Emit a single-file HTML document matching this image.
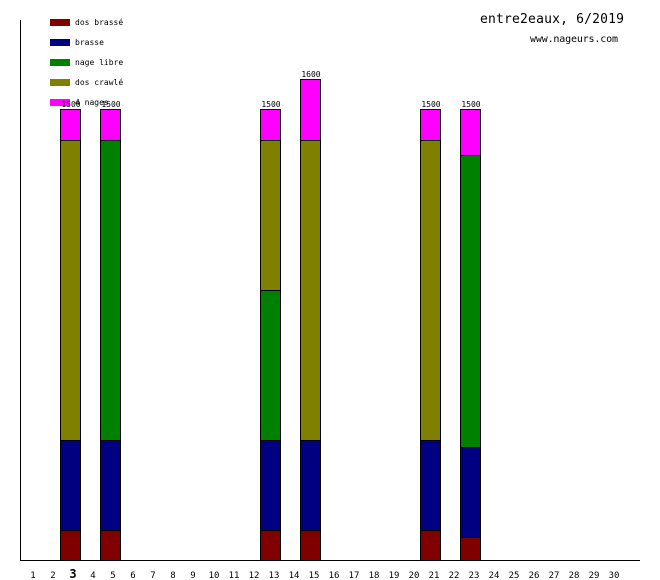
<!DOCTYPE html>
<html><head><meta charset="utf-8"><style>
html,body{margin:0;padding:0;background:#fff;}
svg{display:block;}
text{font-family:"DejaVu Sans Mono","Liberation Mono",monospace;}
</style></head><body>
<svg width="660" height="580" xmlns="http://www.w3.org/2000/svg">
<rect width="660" height="580" fill="#fff"/>
<line x1="20.5" y1="20" x2="20.5" y2="561" stroke="#000"/>
<line x1="20" y1="560.5" x2="640" y2="560.5" stroke="#000"/>
<text x="480" y="23" font-size="13" textLength="144">entre2eaux, 6/2019</text>
<text x="530" y="42" font-size="10" textLength="88">www.nageurs.com</text>
<g font-size="8">
<rect x="50" y="19" width="20" height="7" fill="#800000"/><text x="75" y="25">dos brassé</text>
<rect x="50" y="39" width="20" height="7" fill="#000080"/><text x="75" y="45">brasse</text>
<rect x="50" y="59" width="20" height="7" fill="#008000"/><text x="75" y="65">nage libre</text>
<rect x="50" y="79" width="20" height="7" fill="#808000"/><text x="75" y="85">dos crawlé</text>
<rect x="50" y="99" width="20" height="7" fill="#ff00ff"/><text x="75" y="105">4 nages</text>
</g>
<g stroke="#000" stroke-width="1">
<!-- day 3 -->
<rect x="60.5" y="530.5" width="20" height="30" fill="#800000"/>
<rect x="60.5" y="440.5" width="20" height="90" fill="#000080"/>
<rect x="60.5" y="140.5" width="20" height="300" fill="#808000"/>
<rect x="60.5" y="109.5" width="20" height="31" fill="#ff00ff"/>
<!-- day 5 -->
<rect x="100.5" y="530.5" width="20" height="30" fill="#800000"/>
<rect x="100.5" y="440.5" width="20" height="90" fill="#000080"/>
<rect x="100.5" y="140.5" width="20" height="300" fill="#008000"/>
<rect x="100.5" y="109.5" width="20" height="31" fill="#ff00ff"/>
<!-- day 13 -->
<rect x="260.5" y="530.5" width="20" height="30" fill="#800000"/>
<rect x="260.5" y="440.5" width="20" height="90" fill="#000080"/>
<rect x="260.5" y="290.5" width="20" height="150" fill="#008000"/>
<rect x="260.5" y="140.5" width="20" height="150" fill="#808000"/>
<rect x="260.5" y="109.5" width="20" height="31" fill="#ff00ff"/>
<!-- day 15 -->
<rect x="300.5" y="530.5" width="20" height="30" fill="#800000"/>
<rect x="300.5" y="440.5" width="20" height="90" fill="#000080"/>
<rect x="300.5" y="140.5" width="20" height="300" fill="#808000"/>
<rect x="300.5" y="79.5" width="20" height="61" fill="#ff00ff"/>
<!-- day 21 -->
<rect x="420.5" y="530.5" width="20" height="30" fill="#800000"/>
<rect x="420.5" y="440.5" width="20" height="90" fill="#000080"/>
<rect x="420.5" y="140.5" width="20" height="300" fill="#808000"/>
<rect x="420.5" y="109.5" width="20" height="31" fill="#ff00ff"/>
<!-- day 23 -->
<rect x="460.5" y="537.5" width="20" height="23" fill="#800000"/>
<rect x="460.5" y="447.5" width="20" height="90" fill="#000080"/>
<rect x="460.5" y="155.5" width="20" height="292" fill="#008000"/>
<rect x="460.5" y="109.5" width="20" height="46" fill="#ff00ff"/>
</g>
<g font-size="8" text-anchor="middle">
<text x="71" y="107">1500</text>
<text x="111" y="107">1500</text>
<text x="271" y="107">1500</text>
<text x="311" y="77">1600</text>
<text x="431" y="107">1500</text>
<text x="471" y="107">1500</text>
</g>
<g font-size="9" text-anchor="middle">
<text x="33" y="578">1</text><text x="53" y="578">2</text>
<text x="73" y="578" font-size="12" font-weight="bold">3</text>
<text x="93" y="578">4</text><text x="113" y="578">5</text><text x="133" y="578">6</text>
<text x="153" y="578">7</text><text x="173" y="578">8</text><text x="193" y="578">9</text>
<text x="214" y="578">10</text><text x="234" y="578">11</text><text x="254" y="578">12</text>
<text x="274" y="578">13</text><text x="294" y="578">14</text><text x="314" y="578">15</text>
<text x="334" y="578">16</text><text x="354" y="578">17</text><text x="374" y="578">18</text>
<text x="394" y="578">19</text><text x="414" y="578">20</text><text x="434" y="578">21</text>
<text x="454" y="578">22</text><text x="474" y="578">23</text><text x="494" y="578">24</text>
<text x="514" y="578">25</text><text x="534" y="578">26</text><text x="554" y="578">27</text>
<text x="574" y="578">28</text><text x="594" y="578">29</text><text x="614" y="578">30</text>
</g>
</svg>
</body></html>
